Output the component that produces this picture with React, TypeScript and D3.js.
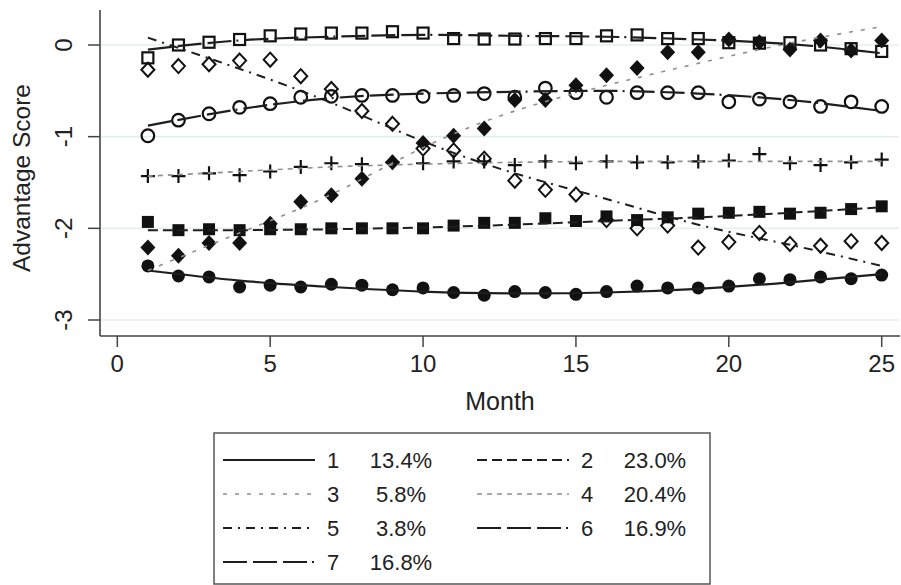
import React from "react";
import * as d3 from "d3";

// months observed
const MONTHS = [1, 2, 3, 4, 5, 6, 7, 8, 9, 10, 11, 12, 13, 14, 15, 16, 17, 18, 19, 20, 21, 22, 23, 24, 25];
const FIT_MONTHS = [1, 4, 7, 10, 13, 16, 19, 22, 25];

const X_TICKS = [0, 5, 10, 15, 20, 25];
const Y_TICKS = [0, -1, -2, -3];

const CLASS_NAMES = ["1", "2", "3", "4", "5", "6", "7"];
const CLASS_SHARES = ["13.4%", "23.0%", "5.8%", "20.4%", "3.8%", "16.9%", "16.8%"];

// observed mean scores per class
const OBS_1 = [-2.41, -2.52, -2.53, -2.64, -2.62, -2.64, -2.61, -2.62, -2.67, -2.65, -2.7, -2.73, -2.69, -2.7, -2.72, -2.69, -2.63, -2.65, -2.65, -2.63, -2.55, -2.56, -2.53, -2.55, -2.51];
const OBS_2 = [-1.93, -2.02, -2.01, -2.02, -2.01, -2.01, -2.0, -2.0, -2.0, -2.0, -1.97, -1.94, -1.94, -1.89, -1.92, -1.87, -1.91, -1.88, -1.84, -1.83, -1.82, -1.84, -1.83, -1.79, -1.76];
const OBS_3 = [-2.21, -2.3, -2.16, -2.16, -1.95, -1.71, -1.64, -1.46, -1.28, -1.07, -0.99, -0.91, -0.6, -0.6, -0.44, -0.33, -0.25, -0.08, -0.08, 0.06, 0.03, -0.05, 0.05, -0.06, 0.05];
const OBS_4 = [-1.43, -1.43, -1.4, -1.42, -1.38, -1.33, -1.29, -1.3, -1.28, -1.29, -1.27, -1.27, -1.31, -1.27, -1.29, -1.27, -1.28, -1.28, -1.27, -1.26, -1.19, -1.29, -1.31, -1.28, -1.25];
const OBS_5 = [-0.27, -0.23, -0.21, -0.17, -0.16, -0.34, -0.48, -0.72, -0.86, -1.13, -1.15, -1.24, -1.48, -1.58, -1.63, -1.91, -2.0, -1.97, -2.21, -2.15, -2.05, -2.17, -2.19, -2.14, -2.16];
const OBS_6 = [-0.99, -0.82, -0.75, -0.68, -0.64, -0.57, -0.56, -0.55, -0.55, -0.56, -0.55, -0.53, -0.57, -0.47, -0.52, -0.57, -0.52, -0.52, -0.52, -0.62, -0.59, -0.62, -0.67, -0.62, -0.67];
const OBS_7 = [-0.14, 0.0, 0.03, 0.06, 0.1, 0.12, 0.13, 0.13, 0.145, 0.13, 0.07, 0.065, 0.065, 0.07, 0.07, 0.1, 0.11, 0.07, 0.07, 0.025, 0.02, 0.025, 0.0, -0.04, -0.07];

// fitted trajectories
const FIT_1 = [-2.46, -2.57, -2.64, -2.69, -2.71, -2.7, -2.66, -2.59, -2.5];
const FIT_2 = [-2.02, -2.02, -2.01, -1.99, -1.96, -1.92, -1.88, -1.83, -1.77];
const FIT_3 = [-2.46, -2.05, -1.63, -1.12, -0.72, -0.44, -0.2, 0.02, 0.2];
const FIT_4 = [-1.43, -1.38, -1.33, -1.3, -1.28, -1.27, -1.27, -1.27, -1.27];
const FIT_5 = [0.08, -0.26, -0.63, -1.05, -1.4, -1.68, -1.96, -2.18, -2.41];
const FIT_6 = [-0.88, -0.7, -0.58, -0.53, -0.51, -0.5, -0.53, -0.6, -0.72];
const FIT_7 = [-0.05, 0.05, 0.09, 0.11, 0.1, 0.09, 0.06, 0.01, -0.09];

const FONT = "'Liberation Sans', Arial, Helvetica, sans-serif";
const INK = "#1e1e1e";
const DOT_GREY = "#8f8f8f";

type Style = { marker: string; stroke: string; width: number; dash: string };

const STYLES: Style[] = [
  { marker: "circleFilled", stroke: INK, width: 2.2, dash: "" },
  { marker: "squareFilled", stroke: INK, width: 2, dash: "10,5" },
  { marker: "diamondFilled", stroke: DOT_GREY, width: 1.6, dash: "4,8" },
  { marker: "plus", stroke: DOT_GREY, width: 1.6, dash: "5,5" },
  { marker: "diamondOpen", stroke: INK, width: 2, dash: "9,6,2,6" },
  { marker: "circleOpen", stroke: INK, width: 2.2, dash: "24,6,24,6,24,5,2,6" },
  { marker: "squareOpen", stroke: INK, width: 2.2, dash: "24,6,24,6,24,5,2,6" },
];

const OBS = [OBS_1, OBS_2, OBS_3, OBS_4, OBS_5, OBS_6, OBS_7];
const FITS = [FIT_1, FIT_2, FIT_3, FIT_4, FIT_5, FIT_6, FIT_7];

function Marker({ kind, x, y }: { kind: string; x: number; y: number }) {
  if (kind === "circleFilled") return <circle cx={x} cy={y} r={6.5} fill="#111" />;
  if (kind === "circleOpen")
    return <circle cx={x} cy={y} r={6.3} fill="none" stroke="#111" strokeWidth={2.2} />;
  if (kind === "squareFilled") return <rect x={x - 6} y={y - 6} width={12} height={12} fill="#111" />;
  if (kind === "squareOpen")
    return <rect x={x - 5.5} y={y - 5.5} width={11} height={11} fill="none" stroke="#111" strokeWidth={2.2} />;
  if (kind === "diamondFilled")
    return <path d={`M${x},${y - 8}L${x + 7.5},${y}L${x},${y + 8}L${x - 7.5},${y}Z`} fill="#111" />;
  if (kind === "diamondOpen")
    return (
      <path
        d={`M${x},${y - 7}L${x + 6.5},${y}L${x},${y + 7}L${x - 6.5},${y}Z`}
        fill="none"
        stroke="#111"
        strokeWidth={2}
      />
    );
  return (
    <path d={`M${x - 7},${y}H${x + 7}M${x},${y - 7}V${y + 7}`} stroke="#111" strokeWidth={2.2} />
  );
}

export default function App() {
  const W = 901;
  const H = 585;

  const x = d3.scaleLinear().domain([0, 25]).range([117.3, 881.7]);
  const y = d3.scaleLinear().domain([0, -3]).range([45, 320]);

  const axisLeft = 100;
  const axisBottom = 336;

  const line = d3
    .line<number>()
    .x((_, i) => x(FIT_MONTHS[i]))
    .y((d) => y(d))
    .curve(d3.curveNatural);

  const legendTop = 433;
  const rowH = 34;

  return (
    <svg
      width={W}
      height={H}
      style={{ position: "absolute", left: 0, top: 0, background: "#fff" }}
      fontFamily={FONT}
    >
      {/* gridlines */}
      {Y_TICKS.map((t) => (
        <line key={"g" + t} x1={axisLeft + 1} x2={899} y1={y(t)} y2={y(t)} stroke="#e4eef0" strokeWidth={1.5} />
      ))}

      {/* axes */}
      <line x1={axisLeft} x2={axisLeft} y1={10} y2={axisBottom} stroke="#444" strokeWidth={1.6} />
      <line x1={axisLeft} x2={900} y1={axisBottom} y2={axisBottom} stroke="#444" strokeWidth={1.6} />

      {Y_TICKS.map((t) => (
        <g key={"yt" + t}>
          <line x1={88} x2={axisLeft} y1={y(t)} y2={y(t)} stroke="#444" strokeWidth={1.5} />
          <text
            transform={`translate(72,${y(t)}) rotate(-90)`}
            textAnchor="middle"
            fontSize={24}
            fill="#222"
          >
            {t}
          </text>
        </g>
      ))}
      {X_TICKS.map((t) => (
        <g key={"xt" + t}>
          <line x1={x(t)} x2={x(t)} y1={axisBottom} y2={axisBottom + 11} stroke="#444" strokeWidth={1.5} />
          <text x={x(t)} y={372} textAnchor="middle" fontSize={24} fill="#222">
            {t}
          </text>
        </g>
      ))}

      <text x={500} y={410} textAnchor="middle" fontSize={25} fill="#222">
        Month
      </text>
      <text transform="translate(30,178) rotate(-90)" textAnchor="middle" fontSize={24.5} fill="#222">
        Advantage Score
      </text>

      {/* observed markers */}
      {OBS.map((vals, s) =>
        vals.map((v, i) => <Marker key={`m${s}-${i}`} kind={STYLES[s].marker} x={x(MONTHS[i])} y={y(v)} />)
      )}

      {/* fitted lines */}
      {FITS.map((vals, s) => (
        <path
          key={"f" + s}
          d={line(vals) || ""}
          fill="none"
          stroke={STYLES[s].stroke}
          strokeWidth={STYLES[s].width}
          strokeDasharray={STYLES[s].dash}
        />
      ))}

      {/* legend */}
      <rect x={214} y={legendTop} width={496} height={151} fill="#fff" stroke="#555" strokeWidth={1.5} />
      {CLASS_NAMES.map((name, i) => {
        const col = i % 2;
        const row = Math.floor(i / 2);
        const cy = legendTop + 27 + row * rowH;
        const lx = col === 0 ? 223 : 477;
        const st = STYLES[i];
        return (
          <g key={"lg" + i}>
            <line
              x1={lx}
              x2={lx + 92}
              y1={cy}
              y2={cy}
              stroke={st.stroke}
              strokeWidth={st.width}
              strokeDasharray={st.dash}
            />
            <text x={lx + 110} y={cy + 8} textAnchor="middle" fontSize={22} fill="#222">
              {name}
            </text>
            <text x={lx + 178} y={cy + 8} textAnchor="middle" fontSize={22} fill="#222">
              {CLASS_SHARES[i]}
            </text>
          </g>
        );
      })}
    </svg>
  );
}
